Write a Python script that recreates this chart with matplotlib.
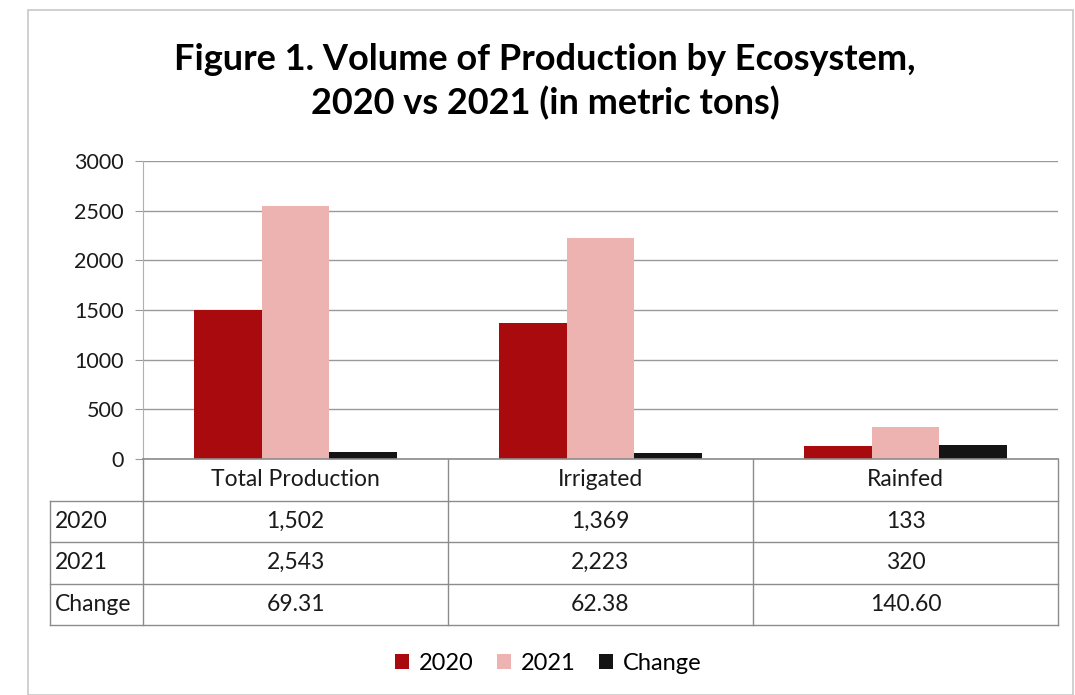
import numpy as np
import matplotlib.pyplot as plt
from matplotlib.patches import Rectangle

plt.rcParams['font.family'] = ['Lato', 'DejaVu Sans']

# data
categories = ["Total Production", "Irrigated", "Rainfed"]
series = ["2020", "2021", "Change"]
v2020 = [1502, 1369, 133]
v2021 = [2543, 2223, 320]
change = [69.31, 62.38, 140.60]
labels_2020 = ["1,502", "1,369", "133"]
labels_2021 = ["2,543", "2,223", "320"]
labels_change = ["69.31", "62.38", "140.60"]

colors = ["#A80A0E", "#EDB3B0", "#141414"]
grid_c = "#9A9A9A"

W, H = 1075, 695
fig = plt.figure(figsize=(W / 100, H / 100), dpi=100)
fig.patches.append(Rectangle((28 / W, 0), 1 - 28 / W - 2 / W, 1 - 10 / H,
                             transform=fig.transFigure, fill=False,
                             edgecolor="#C8C8C8", linewidth=1.2))

# chart axes: x 143..1058 px, y 161..459 px
x0, x1, yt, yb = 143, 1058, 161, 459
ax = fig.add_axes([x0 / W, 1 - yb / H, (x1 - x0) / W, (yb - yt) / H])

x = np.arange(len(categories))
bw = 0.222
for i, (vals, c) in enumerate(zip([v2020, v2021, change], colors)):
    ax.bar(x + (i - 1) * bw, vals, bw, color=c, label=series[i], zorder=3)

ax.set_xlim(-0.5, 2.5)
ax.set_ylim(0, 3000)
ax.set_yticks(np.arange(0, 3001, 500))
ax.yaxis.grid(True, color=grid_c, linewidth=1.0)
ax.set_axisbelow(True)
ax.set_xticks([])
for s in ["top", "right", "bottom"]:
    ax.spines[s].set_visible(False)
ax.spines["left"].set_color("#B0B0B0")
ax.tick_params(axis="y", length=6, color=grid_c, labelsize=15.5, pad=8,
               labelcolor="#1a1a1a")

# data table below
tx0 = 50
rows = [("2020", labels_2020), ("2021", labels_2021), ("Change", labels_change)]
row_h = 41.5
tb = yb + row_h * 4
tax = fig.add_axes([tx0 / W, 1 - tb / H, (x1 - tx0) / W, (tb - yb) / H])
unit = (x1 - x0) / 3.0
tax.set_xlim(-0.5 - (x0 - tx0) / unit, 2.5)
tax.set_ylim(4, 0)
tax.axis("off")
lc = "#8C8C8C"
left = -0.5 - (x0 - tx0) / unit
tax.plot([-0.5, 2.5], [0, 0], color=lc, lw=1.2, clip_on=False)
for r in [1, 2, 3, 4]:
    tax.plot([left, 2.5], [r, r], color=lc, lw=1, clip_on=False)
for xv in [-0.5, 0.5, 1.5, 2.5]:
    tax.plot([xv, xv], [0, 4], color=lc, lw=1, clip_on=False)
tax.plot([left, left], [1, 4], color=lc, lw=1, clip_on=False)
fs = 16.5
for j, cat in enumerate(categories):
    tax.text(j, 0.5, cat, ha="center", va="center", fontsize=fs, color="#1a1a1a")
for r, (name, vals) in enumerate(rows, start=1):
    tax.text(left + 0.015, r + 0.5, name, ha="left", va="center", fontsize=fs,
             color="#1a1a1a")
    for j, v in enumerate(vals):
        tax.text(j, r + 0.5, v, ha="center", va="center", fontsize=fs,
                 color="#1a1a1a")

fig.text(0.507, 1 - 60 / H, "Figure 1. Volume of Production by Ecosystem,",
         ha="center", va="center", fontsize=26, fontweight="bold")
fig.text(0.507, 1 - 103 / H, "2020 vs 2021 (in metric tons)",
         ha="center", va="center", fontsize=26, fontweight="bold")

fig.legend(loc="center", bbox_to_anchor=(0.51, 1 - 663 / H), ncol=3,
           frameon=False, fontsize=17, handlelength=0.6, handleheight=0.6,
           handletextpad=0.4, columnspacing=1.0)

fig.savefig("out.png", dpi=100)
